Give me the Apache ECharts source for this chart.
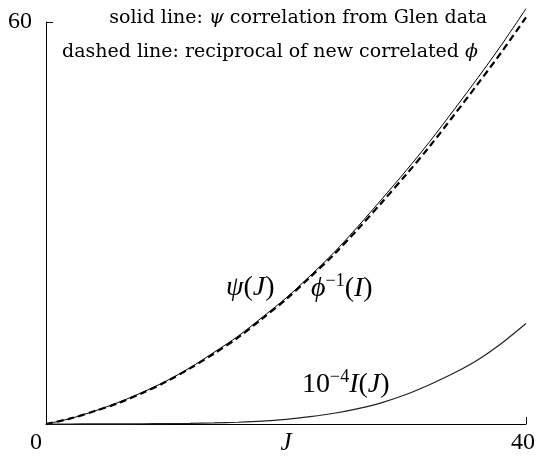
<!DOCTYPE html>
<html>
<head>
<meta charset="utf-8">
<script src="https://cdn.jsdelivr.net/npm/echarts@6/dist/echarts.min.js"></script>
<style>
  html, body { margin: 0; padding: 0; background: #fff; }
  #chart { width: 536px; height: 458px; }
</style>
</head>
<body>
<div id="chart"></div>
<script>
// values
var J = [0, 2, 4, 6, 8, 10, 12, 14, 16, 18, 20, 22, 24, 26, 28, 30, 32, 34, 36, 38, 40];
var psi = [0, 0.8, 1.9, 3.2, 4.7, 6.4, 8.4, 10.7, 13.1, 15.9, 18.8, 22.1, 25.6, 29.5, 33.6, 37.8, 42.2, 46.9, 51.7, 56.7, 62.0];
var phiInv = [0, 0.8, 1.9, 3.1, 4.6, 6.3, 8.3, 10.5, 12.9, 15.7, 18.6, 21.9, 25.3, 29.1, 33.1, 37.2, 41.5, 46.1, 50.8, 55.6, 60.7];
var intI = [0, 0, 0.01, 0.02, 0.04, 0.06, 0.1, 0.16, 0.26, 0.42, 0.7, 1.1, 1.6, 2.3, 3.2, 4.4, 5.9, 7.6, 9.6, 12.1, 15.0];
var xTicks = [0, 40];
var yTicks = [0, 60];

function pairs(xs, ys) {
	var out = [];
	for (var i = 0; i < xs.length; i++) out.push([xs[i], ys[i]]);
	return out;
}

var serif = "'Liberation Serif', 'DejaVu Serif', serif";
var wide = "'DejaVu Serif', 'Liberation Serif', serif";
var chart = echarts.init(document.getElementById('chart'));

// rich styles for the math-ish labels
var note = {
	n: { fontFamily: wide, fontSize: 19, fill: '#000' },
	m: { fontFamily: wide, fontSize: 19, fontStyle: 'italic', fill: '#000' }
};
var big = {
	n: { fontFamily: serif, fontSize: 28, fill: '#000', lineHeight: 36, verticalAlign: 'bottom' },
	m: { fontFamily: serif, fontSize: 28, fontStyle: 'italic', fill: '#000', lineHeight: 36, verticalAlign: 'bottom' },
	s: { fontFamily: serif, fontSize: 18, fill: '#000', lineHeight: 18, verticalAlign: 'top', padding: [5, 0, 0, 0] }
};

var option = {
	animation: false,
	backgroundColor: '#fff',
	grid: { left: 46, right: 10, top: 22, bottom: 34, outerBoundsMode: 'none', containLabel: false },
	xAxis: {
		type: 'value',
		min: xTicks[0],
		max: xTicks[1],
		interval: xTicks[1] - xTicks[0],
		name: 'J',
		nameLocation: 'middle',
		nameGap: 7,
		nameMoveOverlap: false,
		nameTextStyle: { fontFamily: serif, fontStyle: 'italic', fontSize: 25, color: '#000' },
		axisLine: { lineStyle: { color: '#000', width: 1 } },
		axisTick: { inside: true, length: 7, lineStyle: { color: '#000' } },
		splitLine: { show: false },
		axisLabel: {
			margin: 7,
			formatter: function (v) { return v === 0 ? '{a|' + v + '}' : '{b|' + v + '}'; },
			rich: {
				a: { fontFamily: serif, fontSize: 24, color: '#000', padding: [0, 20, 0, 0] },
				b: { fontFamily: serif, fontSize: 24, color: '#000', padding: [0, 6, 0, 0] }
			}
		}
	},
	yAxis: {
		type: 'value',
		min: yTicks[0],
		max: yTicks[1],
		interval: yTicks[1] - yTicks[0],
		axisLine: { show: true, lineStyle: { color: '#000', width: 1 } },
		axisTick: { show: true, inside: true, length: 7, lineStyle: { color: '#000' } },
		splitLine: { show: false },
		axisLabel: {
			margin: 14,
			fontFamily: serif, fontSize: 24, color: '#000',
			formatter: function (v) { return v === 0 ? '' : v; }
		}
	},
	series: [
		{
			name: 'psi',
			type: 'line',
			data: pairs(J, psi),
			smooth: 0.3,
			symbol: 'none',
			clip: false,
			lineStyle: { color: '#000', width: 1 }
		},
		{
			name: 'phiInv',
			type: 'line',
			data: pairs(J, phiInv),
			smooth: 0.3,
			symbol: 'none',
			clip: false,
			lineStyle: { color: '#000', width: 2.2, type: [7, 4] }
		},
		{
			name: 'I',
			type: 'line',
			data: pairs(J, intI),
			smooth: 0.3,
			symbol: 'none',
			clip: false,
			lineStyle: { color: '#222', width: 1.2 }
		}
	],
	graphic: [
		{
			type: 'text', right: 49, top: 9,
			style: { text: '{n|solid line: }{m|ψ}{n| correlation from Glen data}', rich: note }
		},
		{
			type: 'text', right: 58, top: 43,
			style: { text: '{n|dashed line: reciprocal of new correlated }{m|ϕ}', rich: note }
		},
		{
			type: 'text', left: 226, top: 274,
			style: { text: '{m|ψ}{n|(}{m|J}{n|)}', rich: big }
		},
		{
			type: 'text', left: 311, top: 267,
			style: { text: '{m|ϕ}{s|−1}{n|(}{m|I}{n|)}', rich: big }
		},
		{
			type: 'text', left: 302, top: 363,
			style: { text: '{n|10}{s|−4}{m|I}{n|(}{m|J}{n|)}', rich: big }
		}
	]
};

chart.setOption(option);
</script>
</body>
</html>
